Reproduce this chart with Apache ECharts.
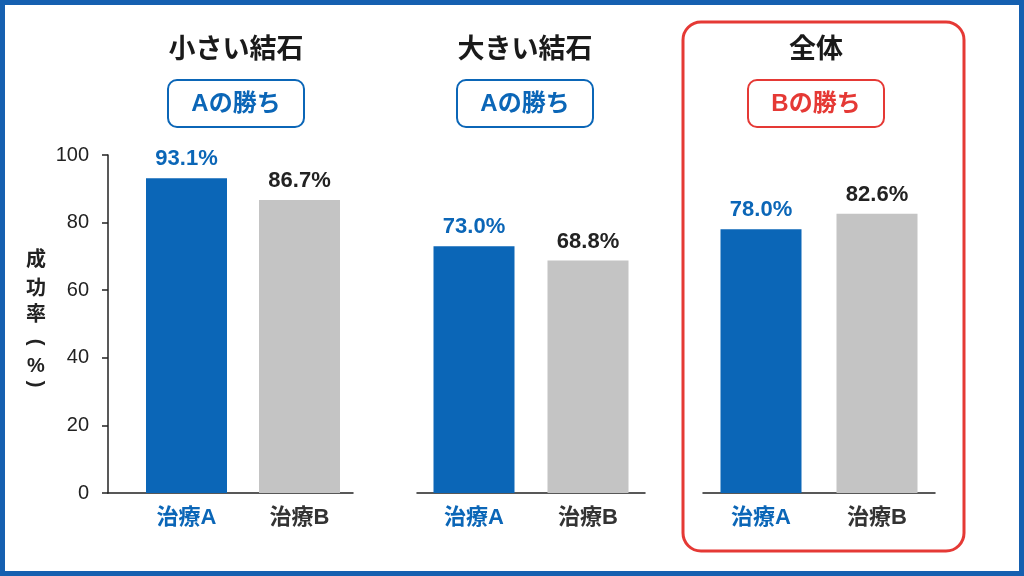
<!DOCTYPE html>
<html>
<head>
<meta charset="utf-8">
<script src="https://cdn.jsdelivr.net/npm/echarts@6/dist/echarts.min.js"></script>
<style>
  html, body { margin: 0; padding: 0; background: #fff; }
  #main { width: 1024px; height: 576px; }
</style>
</head>
<body>
<div id="main"></div>
<script>
// データ
var groups = ['小さい結石', '大きい結石', '全体'];
var verdicts = ['Aの勝ち', 'Aの勝ち', 'Bの勝ち'];
var treatments = ['治療A', '治療B'];
var rateA = [93.1, 73.0, 78.0];
var rateB = [86.7, 68.8, 82.6];
var yTicks = { min: 0, max: 100, interval: 20 };
var yName = ['成', '功', '率', '(', '%', ')'];

var BLUE = '#0b66b7';
var GRAY = '#c4c4c4';
var DARK = '#222';
var RED = '#e53935';
var FONT = '"Liberation Sans", "Noto Sans CJK JP", sans-serif';

var TOP = 155, HEIGHT = 338;
// 各パネルの棒グリッド (left, width) と見出しの中心
var panels = [
    { left: 130, width: 226, cx: 236, win: false },
    { left: 417, width: 228, cx: 525, win: false },
    { left: 703, width: 232, cx: 816, win: true }
];

var myChart = echarts.init(document.getElementById('main'));

var grids = [], xAxes = [], yAxes = [], series = [], graphics = [];

// パネル1の軸だけのグリッド (y軸 + 基線)
grids.push({ left: 108, width: 245, top: TOP, height: HEIGHT });
xAxes.push({
    gridIndex: 0, type: 'category', data: treatments,
    axisLine: { lineStyle: { color: '#222', width: 1.5 } },
    axisTick: { show: false }, axisLabel: { show: false }
});
yAxes.push({
    gridIndex: 0, type: 'value', min: yTicks.min, max: yTicks.max, interval: yTicks.interval,
    axisLine: { show: true, lineStyle: { color: '#222', width: 1.5 } },
    axisTick: { show: true, length: 6, lineStyle: { color: '#222', width: 1.5 } },
    axisLabel: { fontSize: 20, color: DARK, margin: 19, fontFamily: FONT },
    splitLine: { show: false }
});

panels.forEach(function (p, i) {
    var gi = i + 1;
    grids.push({ left: p.left, width: p.width, top: TOP, height: HEIGHT });
    xAxes.push({
        gridIndex: gi, type: 'category',
        data: [
            { value: treatments[0], textStyle: { color: BLUE } },
            { value: treatments[1], textStyle: { color: '#333' } }
        ],
        axisLine: { show: i > 0, lineStyle: { color: '#222', width: 1.5 } },
        axisTick: { show: false },
        axisLabel: { fontSize: 22, fontWeight: 'bold', margin: 14, fontFamily: FONT }
    });
    yAxes.push({
        gridIndex: gi, type: 'value', min: yTicks.min, max: yTicks.max, interval: yTicks.interval,
        show: false, splitLine: { show: false }
    });
    series.push({
        type: 'bar', xAxisIndex: gi, yAxisIndex: gi, barWidth: 81,
        label: {
            show: true, position: 'top', distance: 8,
            fontSize: 22, fontWeight: 'bold', fontFamily: FONT,
            formatter: function (d) { return d.value.toFixed(1) + '%'; }
        },
        data: [
            { value: rateA[i], itemStyle: { color: BLUE }, label: { color: BLUE } },
            { value: rateB[i], itemStyle: { color: GRAY }, label: { color: DARK } }
        ]
    });

    var accent = p.win ? RED : BLUE;
    // 見出し
    graphics.push({
        type: 'text', x: p.cx, y: 48,
        style: { text: groups[i], align: 'center', verticalAlign: 'middle',
                 font: 'bold 27px "Noto Sans CJK JP", sans-serif', fill: '#1a1a1a' }
    });
    // 勝ちバッジ
    graphics.push({
        type: 'rect', shape: { x: p.cx - 68, y: 80, width: 136, height: 47, r: 9 },
        style: { fill: '#fff', stroke: accent, lineWidth: 2 }
    });
    graphics.push({
        type: 'text', x: p.cx, y: 104,
        style: { text: verdicts[i], align: 'center', verticalAlign: 'middle',
                 font: 'bold 24px "Liberation Sans", "Noto Sans CJK JP", sans-serif', fill: accent }
    });
});

// 縦書きの軸名 (括弧は回転して縦書き形にする)
var nameY = [260, 289, 315, 342, 366, 384];
yName.forEach(function (ch, k) {
    var paren = ch === '(' || ch === ')';
    graphics.push({
        type: 'text', x: 36, y: nameY[k],
        rotation: paren ? -Math.PI / 2 : 0,
        style: { text: ch, align: 'center', verticalAlign: 'middle',
                 font: 'bold 20px "Liberation Sans", "Noto Sans CJK JP", sans-serif', fill: DARK }
    });
});

// 全体パネルの赤枠
graphics.push({
    type: 'rect', z: -1, shape: { x: 683, y: 22, width: 281, height: 529, r: 18 },
    style: { fill: 'none', stroke: RED, lineWidth: 3 }
});
// 外枠
graphics.push({
    type: 'rect', shape: { x: 0, y: 0, width: 1024, height: 576 },
    style: { fill: 'none', stroke: '#1560b0', lineWidth: 10 }
});

myChart.setOption({
    animation: false,
    backgroundColor: '#fff',
    grid: grids,
    xAxis: xAxes,
    yAxis: yAxes,
    series: series,
    graphic: graphics
});
</script>
</body>
</html>
